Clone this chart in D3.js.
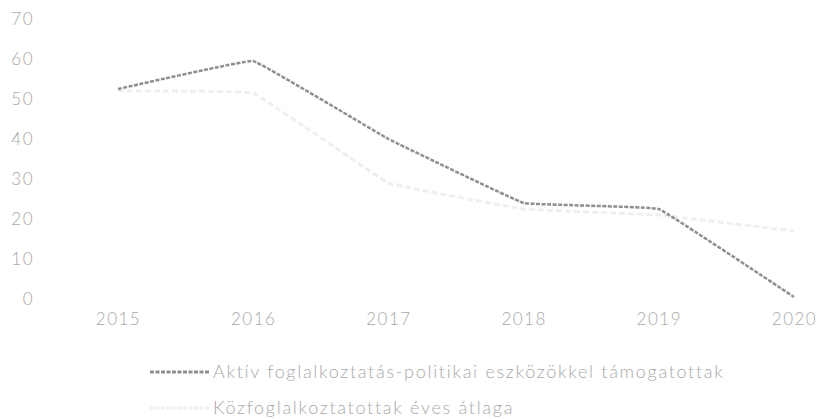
<!DOCTYPE html>
<html>
<head>
<meta charset="utf-8">
<script src="https://cdn.jsdelivr.net/npm/d3@7"></script>
<style>
  body { margin: 0; background: #fff; }
  svg text { font-family: Lato, "DejaVu Sans", sans-serif; font-weight: 300; fill: #a8a8a8; }
</style>
</head>
<body>
<svg id="chart" width="821" height="419"></svg>
<script>
const years = ['2015', '2016', '2017', '2018', '2019', '2020']
const aktiv = [52.5, 59.5, 40, 24, 22.5, 0.5]
const kozfog = [52, 51.5, 29, 22.5, 21, 17]
const yTicks = [0, 10, 20, 30, 40, 50, 60, 70]
const seriesNames = ['Aktív foglalkoztatás-politikai eszközökkel támogatottak', 'Közfoglalkoztatottak éves átlaga']

const svg = d3.select('#chart')

const x = d3.scalePoint().domain(years).range([118, 794])
const y = d3.scaleLinear().domain([0, 70]).range([299, 19])

// y axis labels only, no lines
const yAxis = svg.append('g')
  .attr('transform', 'translate(34,0)')
  .call(d3.axisLeft(y).tickValues(yTicks).tickSize(0).tickPadding(0))
yAxis.select('.domain').remove()
yAxis.selectAll('text')
  .attr('font-size', 17)
  .attr('letter-spacing', 1.5)
  .attr('dy', '0.35em')
  .style('font-family', 'Lato, sans-serif')

// x axis labels
const xAxis = svg.append('g')
  .attr('transform', 'translate(0,313)')
  .call(d3.axisBottom(x).tickSize(0).tickPadding(0))
xAxis.select('.domain').remove()
xAxis.selectAll('text')
  .attr('font-size', 17)
  .attr('letter-spacing', 1.5)
  .style('font-family', 'Lato, sans-serif')

const line = d3.line()
  .x((d, i) => x(years[i]))
  .y((d) => y(d))
  .curve(d3.curveCardinal.tension(0.85))

svg.append('path')
  .datum(kozfog)
  .attr('fill', 'none')
  .attr('stroke', '#efefef')
  .attr('stroke-width', 3)
  .attr('stroke-dasharray', '6 3')
  .attr('d', line)

svg.append('path')
  .datum(aktiv)
  .attr('fill', 'none')
  .attr('stroke', '#8f8f8f')
  .attr('stroke-width', 2.5)
  .attr('stroke-dasharray', '4 1.5')
  .attr('d', line)

// legend
const legendColors = ['#8f8f8f', '#efefef']
const legend = svg.append('g')
  .selectAll('g')
  .data(seriesNames)
  .enter()
  .append('g')
  .attr('transform', (d, i) => `translate(150,${372 + i * 36})`)

legend.append('line')
  .attr('x1', 0)
  .attr('x2', 60)
  .attr('stroke', (d, i) => legendColors[i])
  .attr('stroke-width', 3)
  .attr('stroke-dasharray', '4 1.5')

legend.append('text')
  .attr('x', 63)
  .attr('dy', '0.35em')
  .attr('font-size', 18)
  .attr('letter-spacing', 1.7)
  .text((d) => d)
</script>
</body>
</html>
